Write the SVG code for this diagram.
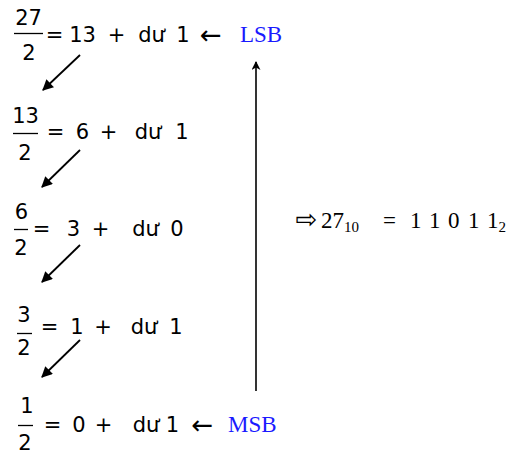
<svg xmlns="http://www.w3.org/2000/svg" width="511" height="457" viewBox="0 0 511 457">
<style>
.t{font-family:"DejaVu Sans",sans-serif;font-size:21px;fill:#000;text-anchor:middle}
.la{font-family:"DejaVu Sans",sans-serif;font-size:26px;fill:#000;text-anchor:middle}
.b{font-family:"Liberation Serif",serif;font-size:23px;fill:#1a1aff;text-anchor:start}
.s{font-family:"Liberation Serif",serif;font-size:23px;fill:#000}
.sub{font-size:15px}
.fl{stroke:#000;stroke-width:1.3}
.ar{stroke:#000;stroke-width:1.8;fill:none}
.av{stroke:#000;stroke-width:1.6;fill:none}
</style>
<defs>
<marker id="ah" viewBox="0 0 10 10" refX="9" refY="5" markerWidth="12" markerHeight="11" markerUnits="userSpaceOnUse" orient="auto">
<path d="M0,0 L10,5 L0,10 z" fill="#000"/>
</marker>
<marker id="ah2" viewBox="0 0 10 10" refX="9" refY="5" markerWidth="16" markerHeight="9" markerUnits="userSpaceOnUse" orient="auto">
<path d="M0,0 L10,5 L0,10 L3,5 z" fill="#000"/>
</marker>
</defs>
<g id="row1">
<text class="t" x="28.5" y="25">27</text>
<line class="fl" x1="14" y1="33.5" x2="43" y2="33.5"/>
<text class="t" x="29" y="60">2</text>
<text class="t" x="54.5" y="42">=</text>
<text class="t" x="82.5" y="42">13</text>
<text class="t" x="116.5" y="42">+</text>
<text class="t" x="151.5" y="42">dư</text>
<text class="t" x="183" y="42">1</text>
<text class="la" x="211" y="44">←</text>
<text class="b" x="240" y="42">LSB</text>
</g>
<g id="row2">
<text class="t" x="25.5" y="123">13</text>
<line class="fl" x1="13" y1="133.5" x2="38" y2="133.5"/>
<text class="t" x="25" y="160">2</text>
<text class="t" x="55.5" y="139">=</text>
<text class="t" x="82.5" y="139">6</text>
<text class="t" x="108.5" y="139">+</text>
<text class="t" x="148" y="139">dư</text>
<text class="t" x="182" y="139">1</text>
</g>
<g id="row3">
<text class="t" x="21.5" y="219">6</text>
<line class="fl" x1="14" y1="229.5" x2="28" y2="229.5"/>
<text class="t" x="21" y="255">2</text>
<text class="t" x="41.5" y="236">=</text>
<text class="t" x="73.5" y="236">3</text>
<text class="t" x="100.5" y="236">+</text>
<text class="t" x="145.5" y="236">dư</text>
<text class="t" x="177" y="236">0</text>
</g>
<g id="row4">
<text class="t" x="24" y="322">3</text>
<line class="fl" x1="17" y1="333.5" x2="32" y2="333.5"/>
<text class="t" x="24" y="355">2</text>
<text class="t" x="49.5" y="334">=</text>
<text class="t" x="77" y="334">1</text>
<text class="t" x="103" y="334">+</text>
<text class="t" x="144" y="334">dư</text>
<text class="t" x="176" y="334">1</text>
</g>
<g id="row5">
<text class="t" x="27" y="413">1</text>
<line class="fl" x1="18" y1="425.5" x2="33" y2="425.5"/>
<text class="t" x="25" y="450">2</text>
<text class="t" x="52.5" y="432">=</text>
<text class="t" x="79" y="432">0</text>
<text class="t" x="103.5" y="432">+</text>
<text class="t" x="146" y="432">dư</text>
<text class="t" x="172.5" y="432">1</text>
<text class="la" x="202.5" y="434">←</text>
<text class="b" x="228" y="432">MSB</text>
</g>
<g id="result">
<text class="la" x="306.5" y="228">⇨</text>
<text class="s" x="321" y="228">27<tspan class="sub" dy="4">10</tspan><tspan dy="-4" x="383">=</tspan><tspan x="410">1</tspan><tspan x="429">1</tspan><tspan x="448">0</tspan><tspan x="468">1</tspan><tspan x="487">1</tspan><tspan class="sub" dy="4">2</tspan></text>
</g>
<g id="connectors">
<line class="ar" x1="80" y1="55" x2="43" y2="90" marker-end="url(#ah)"/>
<line class="ar" x1="80" y1="150" x2="42" y2="187" marker-end="url(#ah)"/>
<line class="ar" x1="80" y1="245" x2="42" y2="282" marker-end="url(#ah)"/>
<line class="ar" x1="80" y1="340" x2="42" y2="377" marker-end="url(#ah)"/>
<line class="av" x1="256" y1="391" x2="256" y2="62" marker-end="url(#ah2)"/>
</g>
</svg>
